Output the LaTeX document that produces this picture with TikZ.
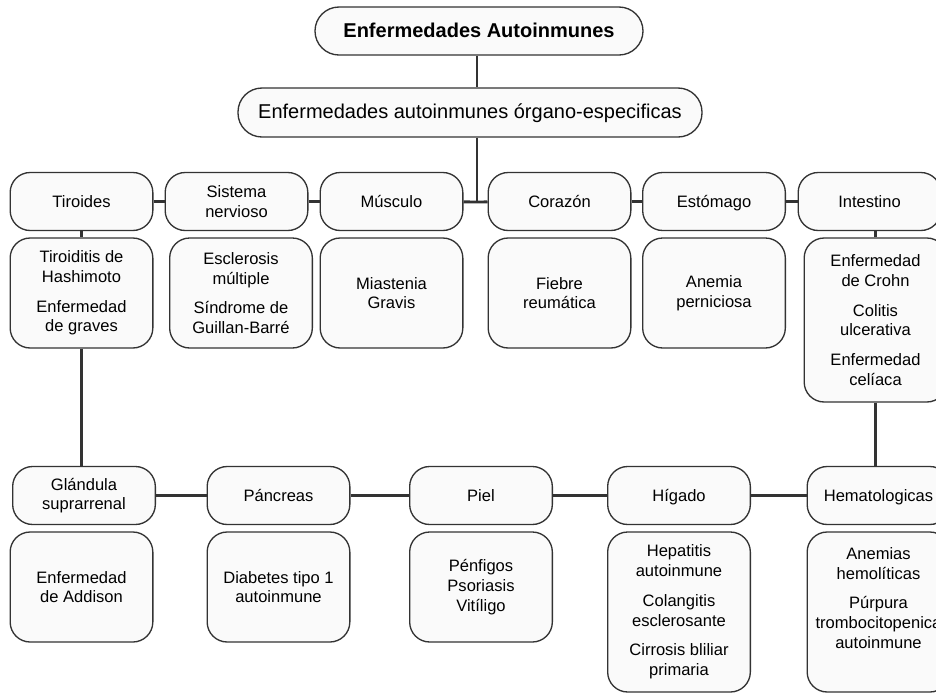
\documentclass[tikz,border=0pt]{standalone}
\usepackage{fontspec}
\setmainfont{Liberation Sans}
\definecolor{boxline}{HTML}{333333}
\definecolor{boxfill}{HTML}{FAFAFA}
\tikzset{
  organo/.style={draw=boxline, fill=boxfill, line width=1pt, rounded corners=15pt,
    minimum width=107pt, minimum height=43.5pt, inner sep=0pt, align=center,
    font=\fontsize{12.4}{14.8}\selectfont},
  uno/.style={text height=9pt, text depth=0pt},
  enfer/.style={organo, minimum height=82.5pt},
  titulo/.style={draw=boxline, fill=boxfill, line width=1pt, rounded corners=18pt,
    minimum height=36pt, inner sep=0pt, align=center, font=\fontsize{15}{18}\selectfont},
  enlace/.style={draw=boxline, line width=2.2pt},
}
\begin{document}
\begin{tikzpicture}[x=0.75pt,y=0.75pt,yscale=-1,xscale=1]
\useasboundingbox (0,0) rectangle (936,694);

% Titulos
\node[titulo, uno, minimum width=246pt] (auto) at (479,31) {\bfseries Enfermedades Autoinmunes};
\node[titulo, uno, minimum width=348pt, minimum height=36.75pt] (espec) at (470,112.5) {Enfermedades autoinmunes órgano-especificas};
\coordinate (hub) at (477,202);

% Fila de arriba
\node[organo, uno] (tir) at (81.5,201.5) {Tiroides};
\node[organo] (sis) at (236.5,201.5) {Sistema\\nervioso};
\node[organo, uno] (mus) at (391.5,201.5) {Músculo};
\node[organo, uno] (cor) at (559.5,201.5) {Corazón};
\node[organo, uno] (est) at (714,201.5) {Estómago};
\node[organo, uno] (int) at (869.5,201.5) {Intestino};

\node[enfer] (tirdis) at (81.5,293) {Tiroiditis de\\Hashimoto\\[7.5pt]Enfermedad\\de graves};
\node[enfer] (sisdis) at (241,293) {Esclerosis\\múltiple\\[7.5pt]Síndrome de\\Guillan-Barré};
\node[enfer] (musdis) at (391.5,293) {Miastenia\\Gravis};
\node[enfer] (cordis) at (559.5,293) {Fiebre\\reumática};
\node[enfer] (estdis) at (714,293) {Anemia\\perniciosa};
\node[enfer, minimum height=123pt] (intdis) at (875.5,320) {Enfermedad\\de Crohn\\[7.5pt]Colitis\\ulcerativa\\[7.5pt]Enfermedad\\celíaca};

% Fila de abajo
\node[organo] (gla) at (84,495.5) {Glándula\\suprarrenal};
\node[organo, uno] (pan) at (278.5,495.5) {Páncreas};
\node[organo, uno] (piel) at (481,495.5) {Piel};
\node[organo, uno] (hig) at (679,495.5) {Hígado};
\node[organo, uno] (hem) at (878.5,495.5) {Hematologicas};

\node[enfer] (gladis) at (81.5,587) {Enfermedad\\de Addison};
\node[enfer] (pandis) at (278.5,587) {Diabetes tipo 1\\autoinmune};
\node[enfer] (pieldis) at (481,587) {Pénfigos\\Psoriasis\\Vitíligo};
\node[enfer, minimum height=120pt] (higdis) at (679,612) {Hepatitis\\autoinmune\\[7.5pt]Colangitis\\esclerosante\\[7.5pt]Cirrosis bliliar\\primaria};
\node[enfer, minimum height=120pt] (hemdis) at (878.5,612) {};
\node[align=center, inner sep=0pt, font=\fontsize{12.4}{14.8}\selectfont] (hemtxt) at (878.5,598) {Anemias\\hemolíticas\\[7.5pt]Púrpura\\trombocitopenica\\autoinmune};

% Enlaces
\draw[enlace] (auto.south -| hub) -- (espec.north -| hub);
\draw[enlace] (espec.south -| hub) -- (hub);
\draw[enlace] (tir) -- (sis);
\draw[enlace] (sis) -- (mus);
\draw[enlace] (mus) -- (hub) -- (cor);
\draw[enlace] (cor) -- (est);
\draw[enlace] (est) -- (int);
\draw[enlace] (tir.south) -- (tirdis.north);
\draw[enlace] (intdis.north) -- (intdis.north |- int.south);
\draw[enlace] (tirdis.south) -- (tirdis.south |- gla.north);
\draw[enlace] (intdis.south) -- (intdis.south |- hem.north);
\draw[enlace] (gla) -- (pan);
\draw[enlace] (pan) -- (piel);
\draw[enlace] (piel) -- (hig);
\draw[enlace] (hig) -- (hem);

\end{tikzpicture}
\end{document}
